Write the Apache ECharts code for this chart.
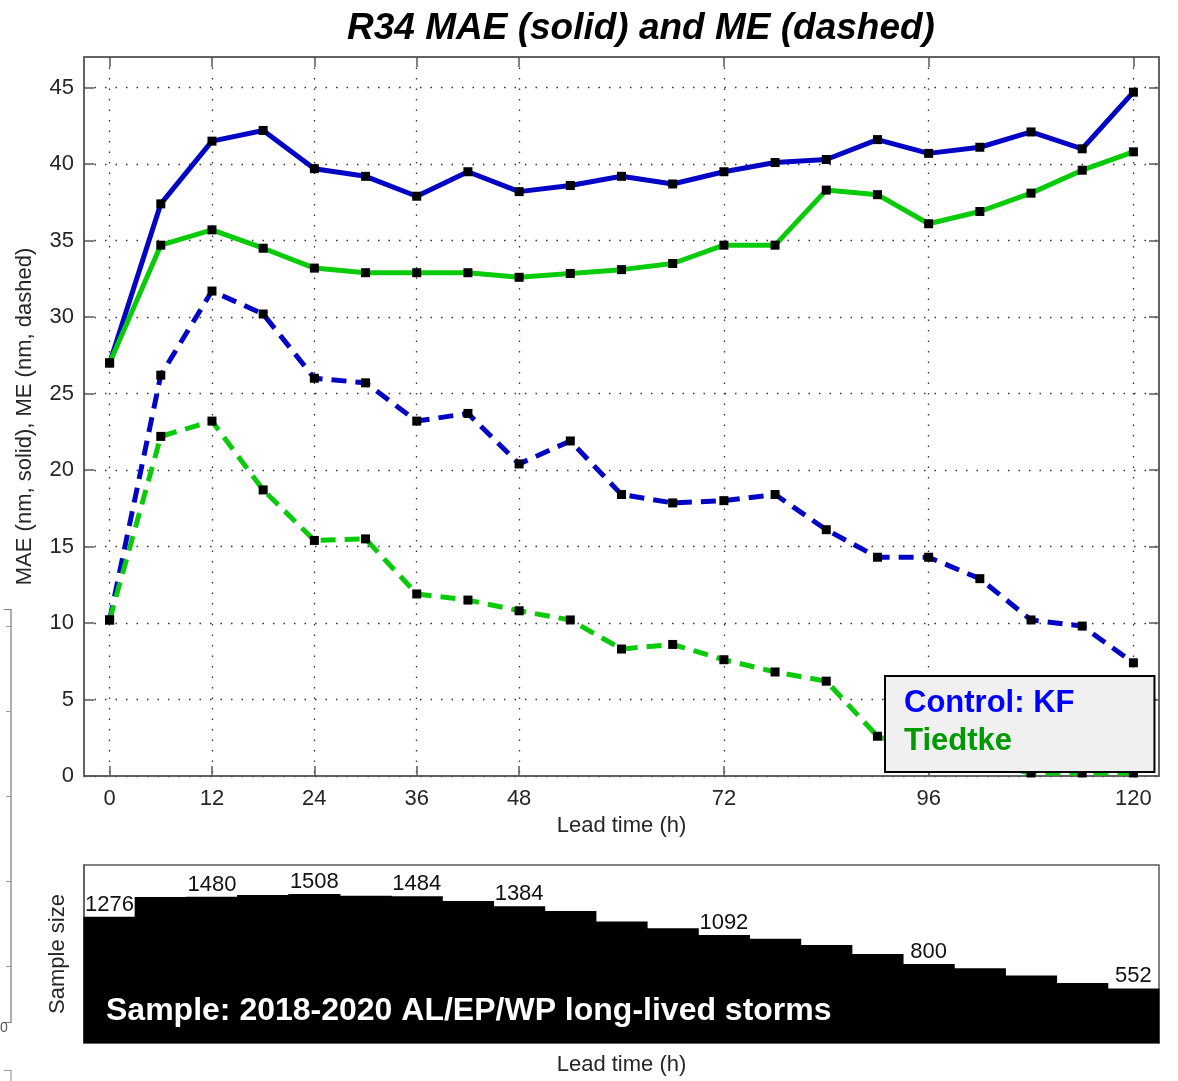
<!DOCTYPE html>
<html>
<head>
<meta charset="utf-8">
<style>
  html, body { margin: 0; padding: 0; background: #ffffff; }
  #chart { width: 1178px; height: 1081px; }
</style>
<script src="https://cdn.jsdelivr.net/npm/echarts@6/dist/echarts.min.js"></script>
</head>
<body>
<div id="chart"></div>
<script>
// Lead times (h) and verification statistics for R34
const leadHours = [0, 6, 12, 18, 24, 30, 36, 42, 48, 54, 60, 66, 72, 78, 84, 90, 96, 102, 108, 114, 120];
const kfMAE = [27.0, 37.4, 41.5, 42.2, 39.7, 39.2, 37.9, 39.5, 38.2, 38.6, 39.2, 38.7, 39.5, 40.1, 40.3, 41.6, 40.7, 41.1, 42.1, 41.0, 44.7];
const tiedtkeMAE = [27.0, 34.7, 35.7, 34.5, 33.2, 32.9, 32.9, 32.9, 32.6, 32.85, 33.1, 33.5, 34.7, 34.7, 38.3, 38.0, 36.1, 36.9, 38.1, 39.6, 40.8];
const kfME = [10.2, 26.2, 31.7, 30.2, 26.0, 25.7, 23.2, 23.7, 20.4, 21.9, 18.4, 17.85, 18.0, 18.4, 16.1, 14.3, 14.3, 12.9, 10.2, 9.8, 7.4];
const tiedtkeME = [10.2, 22.2, 23.2, 18.7, 15.4, 15.5, 11.9, 11.5, 10.8, 10.2, 8.3, 8.6, 7.6, 6.8, 6.2, 2.6, 1.6, 0.8, 0.2, 0.2, 0.2];
const sampleSize = [1276, 1476, 1480, 1496, 1508, 1488, 1484, 1436, 1384, 1336, 1228, 1161, 1092, 1053, 990, 899, 800, 757, 683, 606, 552];

// Axis ticks and the lead times whose sample counts are printed
const xTickHours = [0, 12, 24, 36, 48, 72, 96, 120];
const yTicks = [0, 5, 10, 15, 20, 25, 30, 35, 40, 45];
const labeledHours = [0, 12, 24, 36, 48, 72, 96, 120];

const FONT = 'Liberation Sans, Arial, Helvetica, sans-serif';
const BLUE = '#0404c4';
const GREEN = '#0acb0a';
const AXIS_GRAY = '#595959';
const TEXT = '#262626';

const pairs = (vals) => leadHours.map((h, i) => [h, vals[i]]);
const halfStep = (leadHours[1] - leadHours[0]) / 2;

function errorSeries(name, vals, color, dashed) {
  return {
    name: name,
    type: 'line',
    xAxisIndex: 0,
    yAxisIndex: 0,
    data: pairs(vals),
    symbol: 'rect',
    symbolSize: 9,
    itemStyle: { color: '#000000' },
    lineStyle: { color: color, width: 5, type: dashed ? [15, 9] : 'solid' },
    emphasis: { disabled: true },
    animation: false,
    z: dashed ? 3 : 4
  };
}

// One filled step per lead time, spanning half a step on either side
function renderSampleStep(params, api) {
  const hour = api.value(0);
  const count = api.value(1);
  const topLeft = api.coord([hour - halfStep, count]);
  const bottomRight = api.coord([hour + halfStep, 0]);
  const labelled = labeledHours.includes(hour);
  return {
    type: 'rect',
    shape: {
      x: topLeft[0] - 0.5,
      y: topLeft[1],
      width: bottomRight[0] - topLeft[0] + 1,
      height: bottomRight[1] - topLeft[1]
    },
    style: { fill: '#000000' },
    textContent: labelled ? {
      style: { text: String(count), font: '22px ' + FONT, fill: '#111111' }
    } : undefined,
    textConfig: labelled ? { position: 'top', distance: 1 } : undefined
  };
}

const chart = echarts.init(document.getElementById('chart'), null, { renderer: 'canvas' });

const option = {
  animation: false,
  backgroundColor: '#ffffff',
  title: {
    text: 'R34 MAE (solid) and ME (dashed)',
    left: 342,
    top: 5,
    textStyle: {
      fontFamily: FONT,
      fontSize: 37,
      fontWeight: 'bold',
      fontStyle: 'italic',
      color: '#000000'
    }
  },
  legend: {
    left: 885,
    top: 676,
    orient: 'vertical',
    selectedMode: false,
    backgroundColor: '#f0f0f0',
    borderColor: '#000000',
    borderWidth: 2,
    padding: [12, 80, 15, 14],
    itemGap: 7,
    itemWidth: 0,
    itemHeight: 31,
    data: [
      { name: 'Control: KF', icon: 'none', textStyle: { color: '#0000ff' } },
      { name: 'Tiedtke', icon: 'none', textStyle: { color: '#009a00' } }
    ],
    textStyle: { fontFamily: FONT, fontSize: 31, fontWeight: 'bold' },
    z: 10
  },
  grid: [
    { left: 84, top: 57, width: 1075, height: 719, show: true, borderColor: AXIS_GRAY, borderWidth: 1.5, backgroundColor: 'transparent' },
    { left: 84, top: 865, width: 1075, height: 178, show: true, borderColor: AXIS_GRAY, borderWidth: 1.5, backgroundColor: 'transparent' }
  ],
  xAxis: [
    {
      type: 'value', gridIndex: 0, min: -3, max: 123,
      name: 'Lead time (h)', nameLocation: 'middle', nameGap: 38,
      nameTextStyle: { fontFamily: FONT, fontSize: 22, color: TEXT },
      axisLine: { show: true, onZero: false, lineStyle: { color: AXIS_GRAY, width: 1.5 } },
      axisTick: { show: true, inside: true, length: 10, customValues: xTickHours, lineStyle: { color: AXIS_GRAY, width: 1.5 } },
      axisLabel: { show: true, customValues: xTickHours, margin: 12, fontFamily: FONT, fontSize: 22, color: TEXT },
      splitLine: { show: true, lineStyle: { color: '#333333', width: 1.3, type: [1.5, 9] } }
    },
    {
      type: 'value', gridIndex: 0, min: -3, max: 123, position: 'top',
      axisLine: { show: true, onZero: false, lineStyle: { color: AXIS_GRAY, width: 1.5 } },
      axisTick: { show: true, inside: true, length: 10, customValues: xTickHours, lineStyle: { color: AXIS_GRAY, width: 1.5 } },
      axisLabel: { show: false },
      splitLine: { show: false }
    },
    {
      type: 'value', gridIndex: 1, min: -3, max: 123,
      name: 'Lead time (h)', nameLocation: 'middle', nameGap: 11,
      nameTextStyle: { fontFamily: FONT, fontSize: 22, color: TEXT },
      axisLine: { show: true, onZero: false, lineStyle: { color: AXIS_GRAY, width: 1.5 } },
      axisTick: { show: false },
      axisLabel: { show: false },
      splitLine: { show: false }
    }
  ],
  yAxis: [
    {
      type: 'value', gridIndex: 0, min: 0, max: 47,
      name: 'MAE (nm, solid), ME (nm, dashed)', nameLocation: 'middle', nameGap: 48,
      nameTextStyle: { fontFamily: FONT, fontSize: 22, color: TEXT },
      axisLine: { show: true, onZero: false, lineStyle: { color: AXIS_GRAY, width: 1.5 } },
      axisTick: { show: true, inside: true, length: 10, customValues: yTicks, lineStyle: { color: AXIS_GRAY, width: 1.5 } },
      axisLabel: { show: true, customValues: yTicks, margin: 10, fontFamily: FONT, fontSize: 22, color: TEXT },
      splitLine: { show: true, lineStyle: { color: '#333333', width: 1.3, type: [1.5, 9] } }
    },
    {
      type: 'value', gridIndex: 0, min: 0, max: 47, position: 'right',
      axisLine: { show: true, onZero: false, lineStyle: { color: AXIS_GRAY, width: 1.5 } },
      axisTick: { show: true, inside: true, length: 10, customValues: yTicks, lineStyle: { color: AXIS_GRAY, width: 1.5 } },
      axisLabel: { show: false },
      splitLine: { show: false }
    },
    {
      type: 'value', gridIndex: 1, min: 0, max: 1800,
      name: 'Sample size', nameLocation: 'middle', nameGap: 15,
      nameTextStyle: { fontFamily: FONT, fontSize: 22, color: TEXT },
      axisLine: { show: true, onZero: false, lineStyle: { color: AXIS_GRAY, width: 1.5 } },
      axisTick: { show: false },
      axisLabel: { show: false },
      splitLine: { show: false }
    }
  ],
  series: [
    errorSeries('Control: KF', kfMAE, BLUE, false),
    errorSeries('Tiedtke', tiedtkeMAE, GREEN, false),
    errorSeries('Control: KF', kfME, BLUE, true),
    errorSeries('Tiedtke', tiedtkeME, GREEN, true),
    {
      name: 'Sample size',
      type: 'custom',
      xAxisIndex: 2,
      yAxisIndex: 2,
      data: pairs(sampleSize),
      renderItem: renderSampleStep,
      clip: false,
      emphasis: { disabled: true },
      z: 2
    }
  ],
  graphic: [
    {
      type: 'text',
      left: 106,
      top: 995,
      z: 20,
      style: {
        text: 'Sample: 2018-2020 AL/EP/WP long-lived storms',
        fill: '#ffffff',
        font: 'bold 32px ' + FONT
      }
    },
    // edge of a neighbouring panel along the left margin
    {
      type: 'group',
      left: 0,
      top: 607,
      z: 1,
      children: [
        { type: 'polyline', shape: { points: [[-2, 0], [5, 0], [5, 413], [-2, 413]] }, style: { stroke: '#7a7a7a', lineWidth: 1.2, fill: null } },
        { type: 'line', shape: { x1: 0, y1: 17, x2: 5, y2: 17 }, style: { stroke: '#9a9a9a', lineWidth: 1 } },
        { type: 'line', shape: { x1: 0, y1: 102, x2: 5, y2: 102 }, style: { stroke: '#9a9a9a', lineWidth: 1 } },
        { type: 'line', shape: { x1: 0, y1: 187, x2: 5, y2: 187 }, style: { stroke: '#9a9a9a', lineWidth: 1 } },
        { type: 'line', shape: { x1: 0, y1: 272, x2: 5, y2: 272 }, style: { stroke: '#9a9a9a', lineWidth: 1 } },
        { type: 'line', shape: { x1: 0, y1: 357, x2: 5, y2: 357 }, style: { stroke: '#9a9a9a', lineWidth: 1 } },
        { type: 'text', x: -6, y: 412, style: { text: '0', fill: '#555555', font: '14px ' + FONT } },
        { type: 'polyline', shape: { points: [[-2, 461], [5, 461], [5, 480]] }, style: { stroke: '#9a9a9a', lineWidth: 1.2, fill: null } }
      ]
    }
  ]
};

chart.setOption(option);
</script>
</body>
</html>
